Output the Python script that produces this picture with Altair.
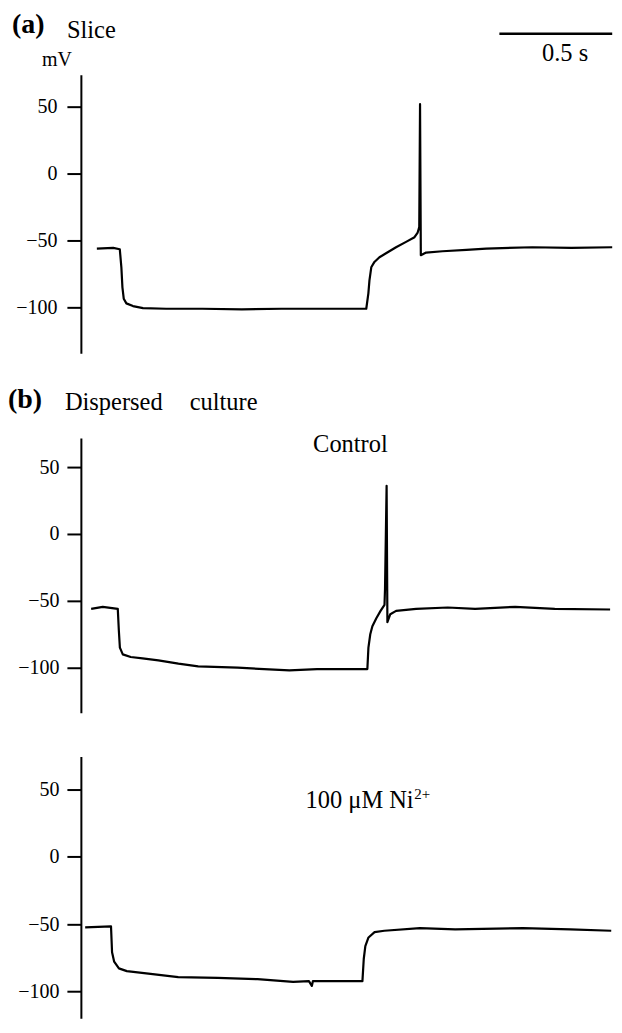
import altair as alt
import pandas as pd

SERIF = "Liberation Serif"

# ---------------- data (time in s, membrane potential in mV) ----------------
# (a) Slice  (trace is cut at the right edge of the figure)
a_t = [0.000, 0.062, 0.087, 0.093, 0.097, 0.102, 0.112, 0.137, 0.175, 0.263,
       0.40, 0.55, 0.70, 0.85, 1.022, 1.030, 1.034, 1.041, 1.053, 1.072,
       1.097, 1.135, 1.173, 1.205, 1.217, 1.223, 1.226, 1.229, 1.249, 1.311,
       1.402, 1.477, 1.652, 1.80, 1.955]
a_mv = [-56, -55.5, -56.5, -70, -85, -93.5, -97, -99, -100.5, -101,
        -101, -101.5, -101, -101, -101, -89.5, -80, -70, -66, -62.5,
        -59.5, -55, -51, -47.5, -44, -40, 52, -61, -59, -58,
        -57, -56, -55, -55.5, -55]

# (b) Dispersed culture, control
b_t = [0.000, 0.044, 0.101, 0.105, 0.109, 0.120, 0.150, 0.195, 0.255, 0.331,
       0.406, 0.556, 0.752, 0.857, 1.048, 1.052, 1.059, 1.067, 1.082, 1.098,
       1.113, 1.115, 1.121, 1.124, 1.135, 1.157, 1.233, 1.353, 1.457, 1.609,
       1.759, 1.969]
b_mv = [-56, -54.5, -56, -72, -85, -90, -92, -93, -94.5, -97,
        -99, -100, -102, -101, -101, -85, -75, -69, -63, -57.5,
        -53, -41, 36, -66, -60, -57.5, -56, -55, -56, -54.5,
        -56, -56.5]

# (b) Dispersed culture, 100 uM Ni2+
n_t = [0.000, 0.098, 0.102, 0.110, 0.128, 0.158, 0.248, 0.353, 0.503, 0.654,
       0.789, 0.849, 0.860, 0.864, 1.052, 1.057, 1.063, 1.075, 1.098, 1.135,
       1.270, 1.404, 1.661, 1.841, 1.996]
n_mv = [-52.5, -51.7, -71, -78, -83, -85, -87, -89.5, -90, -91,
        -93, -92.5, -96, -92.5, -92.5, -76, -66.5, -60, -56, -55,
        -53, -54, -53, -54, -55]

y_ticks = [-100, -50, 0, 50]

# scale bar (0.5 s, cut at the figure edge)
bar_t0 = [1.527]
bar_t1 = [1.955]
bar_mv = [104.7]

W = 533


def trace(t, mv, xdom, ydom, yrange, label_pad):
    df = pd.DataFrame({"t": t, "mv": mv, "i": list(range(len(t)))})
    return alt.Chart(df).mark_line(
        color="black", strokeWidth=2.2, strokeJoin="round"
    ).encode(
        x=alt.X("t:Q", scale=alt.Scale(domain=xdom, nice=False, zero=False), axis=None),
        y=alt.Y(
            "mv:Q",
            scale=alt.Scale(domain=ydom, nice=False, zero=False, range=yrange),
            axis=alt.Axis(values=y_ticks, title=None, tickSize=14,
                          labelPadding=label_pad, grid=False,
                          labelFont=SERIF, labelFontSize=20, labelColor="black",
                          domainColor="black", tickColor="black",
                          domainWidth=2, tickWidth=2),
        ),
        order=alt.Order("i:Q"),
    )


def label(text, x, y, size, weight="normal", align="left"):
    return alt.Chart(pd.DataFrame({"s": [text]})).mark_text(
        font=SERIF, fontSize=size, fontWeight=weight, align=align,
        baseline="alphabetic", color="black",
    ).encode(text="s:N", x=alt.value(x), y=alt.value(y))


# panel (a)
a_line = trace(a_t, a_mv, [-0.0606, 1.958], [-134.3, 74], [279, 0], 10)
bar = alt.Chart(pd.DataFrame({"t0": bar_t0, "t1": bar_t1, "mv": bar_mv})).mark_rule(
    color="black", strokeWidth=2.5
).encode(x="t0:Q", x2="t1:Q", y="mv:Q")
panel_a = alt.layer(
    a_line, bar,
    label("(a)", -69, -42, 28, "bold"),
    label("Slice", -14, -37, 24.5),
    label("mV", -39, -9, 20),
    label("0.5 s", 485, -14, 24.5, align="center"),
).properties(width=W, height=279)

# panel (b) control
b_line = trace(b_t, b_mv, [-0.039, 1.980], [-133.6, 71.6], [360, 85], 8)
panel_b = alt.layer(
    b_line,
    label("(b)", -73, 55, 28, "bold"),
    label("Dispersed", -16, 57, 24.5),
    label("culture", 109, 57, 24.5),
    label("Control", 270, 99, 24.5, align="center"),
).properties(width=W, height=360)

# panel (b) Ni2+
n_line = trace(n_t, n_mv, [-0.0163, 2.0027], [-120.0, 74.5], [306, 44], 8)
panel_n = alt.layer(
    n_line,
    label("100 \u03bcM Ni", 225, 95, 24.5),
    label("2+", 334, 86, 15),
).properties(width=W, height=306)

chart = alt.vconcat(panel_a, panel_b, panel_n, spacing=0, bounds="flush").properties(
    padding={"left": 0, "top": 2, "right": 0, "bottom": 0}
).configure(background="white").configure_view(stroke=None).configure_axis(
    labelFont=SERIF, labelFontSize=20, labelColor="black",
    domainColor="black", tickColor="black", domainWidth=2, tickWidth=2,
)

chart.save("out.html", embed_options={"renderer": "svg", "actions": False})
